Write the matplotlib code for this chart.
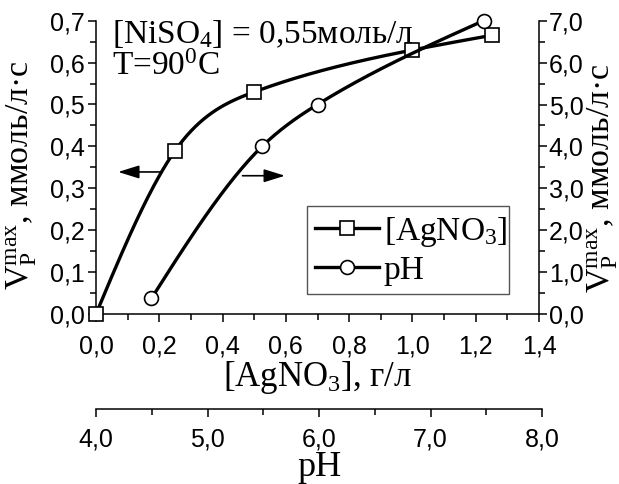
import numpy as np
import matplotlib
matplotlib.use('Agg')
import matplotlib.pyplot as plt
from matplotlib.ticker import MultipleLocator, FuncFormatter
from matplotlib.lines import Line2D

plt.rcParams['font.family'] = 'Liberation Sans'
plt.rcParams['mathtext.fontset'] = 'custom'
plt.rcParams['mathtext.rm'] = 'Liberation Serif'
plt.rcParams['mathtext.it'] = 'Liberation Serif:italic'

# [AgNO3], g/l  ->  V (left axis)
agno3 = [0.0, 0.25, 0.5, 1.0, 1.25]
v_agno3 = [0.0, 0.39, 0.53, 0.63, 0.665]

# pH -> V (right axis)
ph = [4.5, 5.5, 6.0, 7.5]
v_ph = [0.37, 4.0, 5.0, 7.0]


def natural_spline(x, y, n=200):
    x = np.asarray(x, float)
    y = np.asarray(y, float)
    k = len(x)
    h = np.diff(x)
    a = np.zeros((k, k))
    b = np.zeros(k)
    a[0, 0] = a[-1, -1] = 1
    for i in range(1, k - 1):
        a[i, i - 1] = h[i - 1]
        a[i, i] = 2 * (h[i - 1] + h[i])
        a[i, i + 1] = h[i]
        b[i] = 6 * ((y[i + 1] - y[i]) / h[i] - (y[i] - y[i - 1]) / h[i - 1])
    m = np.linalg.solve(a, b)
    xs = np.linspace(x[0], x[-1], n)
    idx = np.clip(np.searchsorted(x, xs) - 1, 0, k - 2)
    t0 = x[idx + 1] - xs
    t1 = xs - x[idx]
    hh = h[idx]
    ys = (m[idx] * t0 ** 3 + m[idx + 1] * t1 ** 3) / (6 * hh) \
        + (y[idx] / hh - m[idx] * hh / 6) * t0 \
        + (y[idx + 1] / hh - m[idx + 1] * hh / 6) * t1
    return xs, ys


def comma(fmt):
    return FuncFormatter(lambda v, p: fmt.format(v).replace('.', ','))


serif = 'Liberation Serif'
tick_fs = 18
lab_fs = 24

fig = plt.figure(figsize=(6.19, 4.84), dpi=100)
pos = [96 / 619, 1 - 314 / 484, 443 / 619, 293.3 / 484]
ax = fig.add_axes(pos)
axc = fig.add_axes(pos, facecolor='none')

ax.set_xlim(0, 1.4)
ax.set_ylim(0, 0.7)
axc.set_xlim(4, 8)
axc.set_ylim(0, 7)

for s in ['top', 'right']:
    ax.spines[s].set_visible(False)
for s in ['top', 'left', 'bottom']:
    axc.spines[s].set_visible(False)
for a in (ax, axc):
    for s in a.spines.values():
        s.set_linewidth(1.1)

ax.xaxis.set_major_locator(MultipleLocator(0.2))
ax.xaxis.set_minor_locator(MultipleLocator(0.1))
ax.yaxis.set_major_locator(MultipleLocator(0.1))
ax.yaxis.set_minor_locator(MultipleLocator(0.05))
ax.xaxis.set_major_formatter(comma('{:.1f}'))
ax.yaxis.set_major_formatter(comma('{:.1f}'))
ax.tick_params(which='major', length=6, width=1.1, labelsize=tick_fs, pad=2)
ax.tick_params(which='minor', length=4, width=1.1)
ax.tick_params(axis='x', which='major', pad=9)

axc.xaxis.set_visible(False)
axc.yaxis.tick_right()
axc.yaxis.set_major_locator(MultipleLocator(1))
axc.yaxis.set_minor_locator(MultipleLocator(0.5))
axc.yaxis.set_major_formatter(comma('{:.1f}'))
axc.tick_params(which='major', length=6, width=1.1, labelsize=tick_fs, pad=1)
axc.tick_params(which='minor', length=4, width=1.1)

xs, ys = natural_spline(agno3, v_agno3)
ax.plot(xs, ys, color='k', lw=2.4, zorder=3)
ax.plot(agno3, v_agno3, ls='none', marker='s', ms=10, mfc='white', mec='k',
        mew=1.2, zorder=4, clip_on=False)

xs, ys = natural_spline(ph, v_ph)
axc.plot(xs, ys, color='k', lw=2.4, zorder=3)
axc.plot(ph, v_ph, ls='none', marker='o', ms=10, mfc='white', mec='k',
         mew=1.2, zorder=4, clip_on=False)

# direction arrows
ax.annotate('', xy=(0.07, 0.339), xytext=(0.202, 0.339),
            arrowprops=dict(arrowstyle='-|>,head_length=0.8,head_width=0.25',
                            color='k', lw=1.2, mutation_scale=16, shrinkA=0, shrinkB=0))
ax.annotate('', xy=(0.597, 0.33), xytext=(0.463, 0.33),
            arrowprops=dict(arrowstyle='-|>,head_length=0.8,head_width=0.25',
                            color='k', lw=1.2, mutation_scale=16, shrinkA=0, shrinkB=0))

ax.text(0.036, 0.925, r'[NiSO$_4$] = 0,55моль/л', transform=ax.transAxes,
        family=serif, fontsize=lab_fs, va='baseline', ha='left')
ax.text(0.036, 0.816, r'T=90$^0$C', transform=ax.transAxes,
        family=serif, fontsize=lab_fs, va='baseline', ha='left')

handles = [
    Line2D([], [], color='k', lw=2.4, marker='s', ms=10, mfc='white', mec='k', mew=1.2),
    Line2D([], [], color='k', lw=2.4, marker='o', ms=10, mfc='white', mec='k', mew=1.2),
]
leg = ax.legend(handles, [r'[AgNO$_3$]', 'pH'], loc='lower left',
                bbox_to_anchor=(0.476, 0.068, 0.456, 0.307), mode='expand',
                borderaxespad=0, fancybox=False, framealpha=1, edgecolor='#555555',
                prop=dict(family=serif, size=lab_fs), handlelength=1.9,
                handletextpad=0.15, labelspacing=0.2, borderpad=0.25)
leg.get_frame().set_linewidth(1.0)

ax.set_xlabel(r'[AgNO$_3$], г/л', family=serif, fontsize=lab_fs + 1, labelpad=0)

ylab = r'$\mathrm{V_P^{max}}$, ммоль/л·с'
ylab_fs = 24.5
fig.text(22 / 619, 1 - 290 / 484, ylab, rotation=90, ha='center', va='bottom',
         family=serif, fontsize=ylab_fs)
fig.text(603 / 619, 1 - 293 / 484, ylab, rotation=90, ha='center', va='bottom',
         family=serif, fontsize=ylab_fs)

# separate pH scale below
axp = fig.add_axes([96 / 619, 1 - 409 / 484, 446 / 619, 0.001], facecolor='none')
for s in ['top', 'left', 'right']:
    axp.spines[s].set_visible(False)
axp.spines['bottom'].set_linewidth(1.1)
axp.set_yticks([])
axp.set_xlim(4, 8)
axp.xaxis.set_major_locator(MultipleLocator(1))
axp.xaxis.set_minor_locator(MultipleLocator(0.5))
axp.xaxis.set_major_formatter(comma('{:.1f}'))
axp.tick_params(which='major', length=6, width=1.1, labelsize=tick_fs, pad=7)
axp.tick_params(which='minor', length=4, width=1.1)
axp.set_xlabel('pH', family=serif, fontsize=lab_fs + 2, labelpad=0)

fig.savefig('out.png', dpi=100)
